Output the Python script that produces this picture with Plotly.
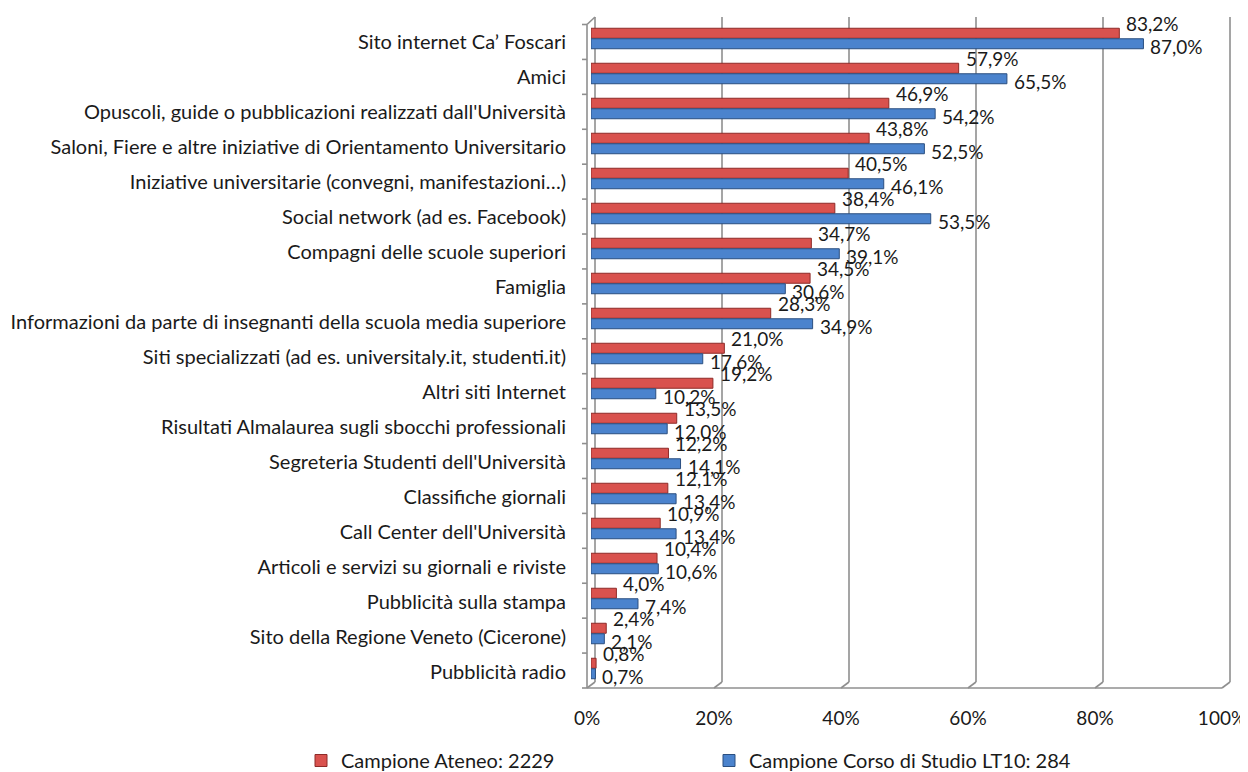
import plotly.graph_objects as go

categories = [
    "Sito internet Ca’ Foscari",
    "Amici",
    "Opuscoli, guide o pubblicazioni realizzati dall'Università",
    "Saloni, Fiere e altre iniziative di Orientamento Universitario",
    "Iniziative universitarie (convegni, manifestazioni…)",
    "Social network (ad es. Facebook)",
    "Compagni delle scuole superiori",
    "Famiglia",
    "Informazioni da parte di insegnanti della scuola media superiore",
    "Siti specializzati (ad es. universitaly.it, studenti.it)",
    "Altri siti Internet",
    "Risultati Almalaurea sugli sbocchi professionali",
    "Segreteria Studenti dell'Università",
    "Classifiche giornali",
    "Call Center dell'Università",
    "Articoli e servizi su giornali e riviste",
    "Pubblicità sulla stampa",
    "Sito della Regione Veneto (Cicerone)",
    "Pubblicità radio",
]
ateneo = [83.2, 57.9, 46.9, 43.8, 40.5, 38.4, 34.7, 34.5, 28.3, 21.0,
          19.2, 13.5, 12.2, 12.1, 10.9, 10.4, 4.0, 2.4, 0.8]
corso = [87.0, 65.5, 54.2, 52.5, 46.1, 53.5, 39.1, 30.6, 34.9, 17.6,
         10.2, 12.0, 14.1, 13.4, 13.4, 10.6, 7.4, 2.1, 0.7]
series_names = ["Campione Ateneo: 2229", "Campione Corso di Studio LT10: 284"]
x_ticks = [0, 20, 40, 60, 80, 100]
x_ticktext = ["0%", "20%", "40%", "60%", "80%", "100%"]

FONT = "Lato"
TXT = "#1a1a1a"
OFF = 8  # page body margin
W, H = 1248 - OFF, 772 - OFF
# plot area in page pixels: x 591..1226, y 21..686
L = 591 - OFF
R = W - (1226 - OFF)
T = 21 - OFF
B = H - (686 - OFF)
PW, PH = W - L - R, H - T - B


def px(x):
    return (x - OFF - L) / PW


def py(y):
    return (H - B - (y - OFF)) / PH


def fmt(v):
    return f"{v:.1f}%".replace(".", ",")


fig = go.Figure()
fig.add_trace(go.Bar(
    y=categories, x=ateneo, orientation="h", name=series_names[0],
    marker=dict(color="#D9524E", line=dict(color="#8E2B28", width=1)),
))
fig.add_trace(go.Bar(
    y=categories, x=corso, orientation="h", name=series_names[1],
    marker=dict(color="#4B83CD", line=dict(color="#2B4F80", width=1)),
))

annotations = []
for c, v in zip(categories, ateneo):
    annotations.append(dict(x=v, y=c, xref="x", yref="y", text=fmt(v),
                            showarrow=False, xanchor="left", yanchor="middle",
                            xshift=5, yshift=15,
                            font=dict(family=FONT, size=19, color=TXT)))
for c, v in zip(categories, corso):
    annotations.append(dict(x=v, y=c, xref="x", yref="y", text=fmt(v),
                            showarrow=False, xanchor="left", yanchor="middle",
                            xshift=5, yshift=-8,
                            font=dict(family=FONT, size=19, color=TXT)))

shapes = []
GRID = dict(color="#8f8f8f", width=1.6)
n = len(categories)
front_top, front_bot = 24.5, 688
back_top, back_bot = 17, 682
dx = 8
front0, step = 587, 127
for k, _ in enumerate(x_ticks):
    xf = front0 + step * k
    xb = xf + dx
    shapes.append(dict(type="line", xref="paper", yref="paper",
                       x0=px(xb), x1=px(xb), y0=py(back_top), y1=py(back_bot),
                       line=GRID, layer="below"))
    shapes.append(dict(type="line", xref="paper", yref="paper",
                       x0=px(xb), x1=px(xf), y0=py(back_bot), y1=py(front_bot),
                       line=GRID, layer="below"))
shapes.append(dict(type="line", xref="paper", yref="paper",
                   x0=px(front0), x1=px(front0 + step * 5), y0=py(front_bot), y1=py(front_bot),
                   line=GRID, layer="below"))
shapes.append(dict(type="line", xref="paper", yref="paper",
                   x0=px(front0), x1=px(front0), y0=py(front_top), y1=py(front_bot),
                   line=GRID, layer="below"))
shapes.append(dict(type="line", xref="paper", yref="paper",
                   x0=px(front0), x1=px(front0 + dx), y0=py(front_top), y1=py(back_top),
                   line=GRID, layer="below"))
row_h = (front_bot - front_top) / n
for k in range(n + 1):
    yy = front_top + row_h * k
    shapes.append(dict(type="line", xref="paper", yref="paper",
                       x0=px(front0 - 5), x1=px(front0), y0=py(yy), y1=py(yy),
                       line=GRID, layer="below"))

fig.update_layout(
    width=W, height=H,
    margin=dict(l=L, r=R, t=T, b=B, autoexpand=False),
    paper_bgcolor="white", plot_bgcolor="white",
    barmode="group", bargap=0.40, bargroupgap=0.05,
    font=dict(family=FONT, size=20, color=TXT),
    xaxis=dict(range=[0, 100], autorange=False, tickvals=x_ticks, ticktext=x_ticktext,
               showgrid=False, zeroline=False, showline=False,
               ticklabelshift=-4, ticklabelstandoff=19,
               tickfont=dict(family=FONT, size=19, color=TXT)),
    yaxis=dict(range=[n - 0.5, -0.5], autorange=False,
               showgrid=False, zeroline=False, showline=False,
               ticklabelshift=-3, ticklabelstandoff=24,
               tickfont=dict(family=FONT, size=20, color=TXT)),
    legend=dict(orientation="h", x=px(301), xanchor="left",
                y=py(741), yanchor="top",
                font=dict(family=FONT, size=20, color=TXT),
                entrywidth=363, entrywidthmode="pixels", itemwidth=30,
                traceorder="normal"),
    annotations=annotations,
    shapes=shapes,
)

fig.write_html("out.html")
